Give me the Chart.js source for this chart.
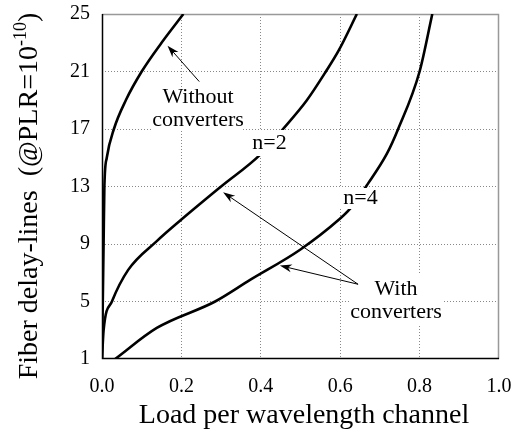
<!DOCTYPE html>
<html>
<head>
<meta charset="utf-8">
<script src="https://cdn.jsdelivr.net/npm/chart.js@4.4.1/dist/chart.umd.min.js"></script>
<style>
  html, body { margin: 0; padding: 0; background: #fff; }
  #wrap { width: 516px; height: 435px; }
</style>
</head>
<body>
<div id="wrap"><canvas id="grafico" width="516" height="435"></canvas></div>
<script>
// valores
const xTicks = [0, 0.2, 0.4, 0.6, 0.8, 1.0];
const yTicks = [1, 5, 9, 13, 17, 21, 25];

const sinConvX = [0, 0.002, 0.004, 0.006, 0.012, 0.03, 0.06, 0.10, 0.15, 0.205];
const sinConvY = [1, 5, 9, 13, 15, 17, 19, 21, 23, 25];

const n2X = [0, 0.004, 0.025, 0.066, 0.138, 0.2, 0.3, 0.398, 0.456, 0.516, 0.564, 0.597, 0.642];
const n2Y = [1, 3, 5, 7.2, 9.2, 10.7, 13, 15.2, 17, 19, 21, 22.5, 25];

const n4X = [0.033, 0.138, 0.285, 0.373, 0.499, 0.597, 0.625, 0.67, 0.718, 0.746, 0.8, 0.832];
const n4Y = [1, 3.16, 5, 6.5, 8.6, 10.7, 11.46, 13.2, 15.3, 17, 21, 25];

const fuente = "'Liberation Serif', 'Times New Roman', serif";

function puntos(xs, ys) {
  return xs.map((x, i) => ({ x: x, y: ys[i] }));
}

function serie(xs, ys) {
  return {
    data: puntos(xs, ys),
    borderColor: "#000",
    borderWidth: 2.6,
    pointRadius: 0,
    fill: false,
    cubicInterpolationMode: "monotone",
  };
}

// etiquetas con fondo blanco (tapan la curva / rejilla como en el original)
const etiquetas = [
  { lineas: ["Without", "converters"], caja: [153, 88, 243, 130] },
  { lineas: ["n=2"], caja: [248, 130, 291, 156] },
  { lineas: ["n=4"], caja: [340, 188, 381, 209] },
  { lineas: ["With", "converters"], caja: [350, 275, 442, 326] },
];

// flechas: [desdeX, desdeY, hastaX, hastaY] en unidades de datos
const flechas = [
  [0.245, 20.3, 0.165, 22.8],
  [0.645, 6.2, 0.305, 12.6],
  [0.645, 6.2, 0.448, 7.5],
];

const dibujos = {
  id: "dibujos",
  beforeDatasetsDraw(chart) {
    // marco: arriba y derecha gris, izquierda y abajo negro
    const { ctx, chartArea: a } = chart;
    ctx.save();
    ctx.strokeStyle = "#999";
    ctx.lineWidth = 1.5;
    ctx.beginPath();
    ctx.moveTo(a.left, a.top + 0.5);
    ctx.lineTo(a.right - 0.5, a.top + 0.5);
    ctx.lineTo(a.right - 0.5, a.bottom);
    ctx.stroke();
    ctx.strokeStyle = "#000";
    ctx.lineWidth = 1.5;
    ctx.beginPath();
    ctx.moveTo(a.left + 0.5, a.top);
    ctx.lineTo(a.left + 0.5, a.bottom - 0.5);
    ctx.lineTo(a.right, a.bottom - 0.5);
    ctx.stroke();
    ctx.restore();
  },
  afterDatasetsDraw(chart) {
    const { ctx } = chart;
    const sx = chart.scales.x, sy = chart.scales.y;
    ctx.save();
    etiquetas.forEach((e) => {
      const c = e.caja;
      ctx.fillStyle = "#fff";
      ctx.fillRect(c[0], c[1], c[2] - c[0], c[3] - c[1]);
      ctx.fillStyle = "#000";
      ctx.font = "22px " + fuente;
      ctx.textAlign = "center";
      ctx.textBaseline = "middle";
      const cx = (c[0] + c[2]) / 2;
      const cy = (c[1] + c[3]) / 2;
      const alto = 23;
      e.lineas.forEach((t, i) => {
        ctx.fillText(t, cx, cy + (i - (e.lineas.length - 1) / 2) * alto);
      });
    });
    flechas.forEach((f) => {
      const x0 = sx.getPixelForValue(f[0]), y0 = sy.getPixelForValue(f[1]);
      const x1 = sx.getPixelForValue(f[2]), y1 = sy.getPixelForValue(f[3]);
      const ang = Math.atan2(y1 - y0, x1 - x0);
      ctx.strokeStyle = "#000";
      ctx.lineWidth = 1;
      ctx.beginPath();
      ctx.moveTo(x0, y0);
      ctx.lineTo(x1 - 6 * Math.cos(ang), y1 - 6 * Math.sin(ang));
      ctx.stroke();
      const L = 12, W = 4;
      ctx.fillStyle = "#000";
      ctx.beginPath();
      ctx.moveTo(x1, y1);
      ctx.lineTo(x1 - L * Math.cos(ang) + W * Math.sin(ang), y1 - L * Math.sin(ang) - W * Math.cos(ang));
      ctx.lineTo(x1 - 0.7 * L * Math.cos(ang), y1 - 0.7 * L * Math.sin(ang));
      ctx.lineTo(x1 - L * Math.cos(ang) - W * Math.sin(ang), y1 - L * Math.sin(ang) + W * Math.cos(ang));
      ctx.closePath();
      ctx.fill();
    });
    ctx.restore();
  },
  afterDraw(chart) {
    const { ctx } = chart;
    ctx.save();
    ctx.fillStyle = "#000";
    // titulo eje x
    ctx.font = "28px " + fuente;
    ctx.textAlign = "center";
    ctx.textBaseline = "alphabetic";
    ctx.fillText("Load per wavelength channel", 304, 423);
    // titulo eje y con superindice
    ctx.translate(37, 196);
    ctx.rotate(-Math.PI / 2);
    const p1 = "Fiber delay-lines  (@PLR=10";
    const p2 = "-10";
    const p3 = ")";
    ctx.font = "28px " + fuente;
    const w1 = ctx.measureText(p1).width;
    const w3 = ctx.measureText(p3).width;
    ctx.font = "18px " + fuente;
    const w2 = ctx.measureText(p2).width;
    let x = -(w1 + w2 + w3) / 2;
    ctx.textAlign = "left";
    ctx.font = "28px " + fuente;
    ctx.fillText(p1, x, 0);
    x += w1;
    ctx.font = "18px " + fuente;
    ctx.fillText(p2, x, -11);
    x += w2;
    ctx.font = "28px " + fuente;
    ctx.fillText(p3, x, 0);
    ctx.restore();
  },
};

new Chart(document.getElementById("grafico"), {
  type: "line",
  data: {
    datasets: [serie(sinConvX, sinConvY), serie(n2X, n2Y), serie(n4X, n4Y)],
  },
  options: {
    responsive: false,
    animation: false,
    layout: { padding: { top: 14, right: 17, left: 0, bottom: 0 } },
    plugins: { legend: { display: false }, tooltip: { enabled: false } },
    scales: {
      x: {
        type: "linear",
        min: 0,
        max: 1,
        afterBuildTicks: (s) => { s.ticks = xTicks.map((v) => ({ value: v })); },
        afterFit: (s) => { s.height = 76; s.paddingLeft = 0; s.paddingRight = 0; },
        ticks: {
          color: "#000",
          font: { family: fuente, size: 20 },
          padding: 16,
          maxRotation: 0,
          callback: (v) => v.toFixed(1),
        },
        grid: {
          drawTicks: false,
          color: (c) => (c.index === 0 || c.index === xTicks.length - 1 ? "rgba(0,0,0,0)" : "#888"),
          lineWidth: 1,
        },
        border: { display: false, dash: [1, 2] },
      },
      y: {
        type: "linear",
        min: 1,
        max: 25,
        afterBuildTicks: (s) => { s.ticks = yTicks.map((v) => ({ value: v })); },
        afterFit: (s) => { s.width = 102; s.paddingTop = 0; s.paddingBottom = 0; },
        ticks: {
          color: "#000",
          font: { family: fuente, size: 20 },
          padding: 12,
          callback: (v) => String(v),
        },
        grid: {
          drawTicks: false,
          color: (c) => (c.index === 0 || c.index === yTicks.length - 1 ? "rgba(0,0,0,0)" : "#888"),
          lineWidth: 1,
        },
        border: { display: false, dash: [1, 2] },
      },
    },
  },
  plugins: [dibujos],
});
</script>
</body>
</html>
